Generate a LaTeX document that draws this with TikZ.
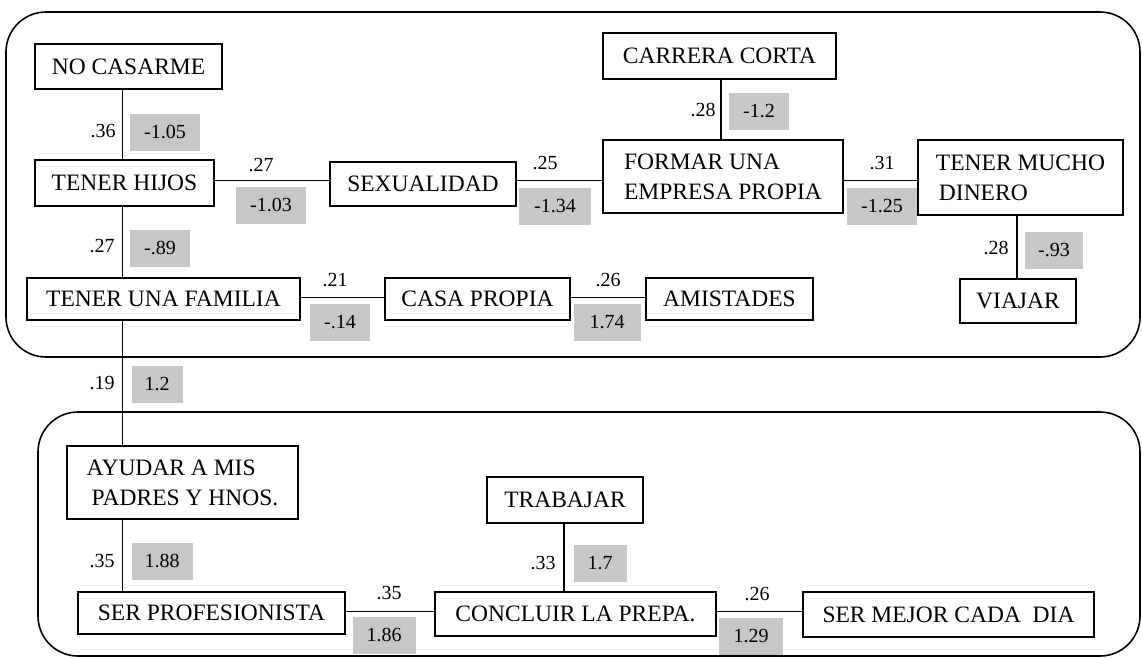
\documentclass[tikz,border=0pt]{standalone}
\usepackage{fontspec}
\setmainfont{Liberation Serif}
\begin{document}
\begin{tikzpicture}[x=1pt,y=-1pt,
  every node/.style={inner sep=0pt},
  box/.style={draw, line width=1.5pt, font=\fontsize{23.5}{30}\selectfont},
  wlab/.style={font=\fontsize{20}{22}\selectfont},
  slab/.style={fill=black!22, minimum height=37pt, font=\fontsize{20}{22}\selectfont},
  conn/.style={line width=1.5pt},
  frame/.style={line width=1.6pt, rounded corners=40pt}]
\useasboundingbox (0,0) rectangle (1142,657);
% frames
\draw[frame] (6,12) rectangle (1140,357);
\draw[frame] (38,412) rectangle (1140,656);
% columns / rows
\coordinate (colA) at (122.5,0);
\coordinate (colB) at (721,0);
\coordinate (colC) at (1017,0);
\coordinate (colD) at (564,0);
\coordinate (rowA) at (0,180.5);
\coordinate (rowB) at (0,297.5);
\coordinate (rowC) at (0,611.5);
% nodes
\node[box, minimum width=187pt, minimum height=45pt] (nocas) at (128.5,66.5) {NO CASARME};
\node[box, minimum width=179pt, minimum height=46pt] (hijos) at (124.5,183) {TENER HIJOS};
\node[box, minimum width=273pt, minimum height=42pt] (fam) at (163.5,299) {TENER UNA FAMILIA};
\node[box, minimum width=186pt, minimum height=44pt] (sex) at (423,184) {SEXUALIDAD};
\node[box, minimum width=240pt, minimum height=73pt, align=left] (formar) at (723,176.5) {FORMAR UNA\\EMPRESA PROPIA};
\node[box, minimum width=233pt, minimum height=46pt] (carrera) at (719.5,56) {CARRERA CORTA};
\node[box, minimum width=205pt, minimum height=75pt, align=left] (dinero) at (1020.5,177.5) {TENER MUCHO\\\hspace{3pt}DINERO\hspace{2.6em}};
\node[box, minimum width=116pt, minimum height=44pt] (viajar) at (1018,301) {VIAJAR};
\node[box, minimum width=185pt, minimum height=42pt] (casa) at (477.5,299) {CASA PROPIA};
\node[box, minimum width=167pt, minimum height=42pt] (amist) at (729.5,299) {AMISTADES};
\node[box, minimum width=231pt, minimum height=73pt, align=left] (ayudar) at (182.5,482.5) {AYUDAR A MIS\\\hspace{5pt}PADRES Y HNOS.};
\node[box, minimum width=267pt, minimum height=42pt] (prof) at (211.5,613) {SER PROFESIONISTA};
\node[box, minimum width=281pt, minimum height=44pt] (concl) at (575.5,614) {CONCLUIR LA PREPA.};
\node[box, minimum width=156pt, minimum height=46pt] (trab) at (565,500) {TRABAJAR};
\node[box, minimum width=291pt, minimum height=45pt] (mejor) at (948.5,614.5) {SER MEJOR CADA\ \ DIA};
% connectors
\draw[conn] (nocas.south -| colA) -- (hijos.north -| colA);
\draw[conn] (hijos.south -| colA) -- (fam.north -| colA);
\draw[conn] (fam.south -| colA) -- (ayudar.north -| colA);
\draw[conn] (ayudar.south -| colA) -- (prof.north -| colA);
\draw[conn] (hijos.east |- rowA) -- (sex.west |- rowA);
\draw[conn] (sex.east |- rowA) -- (formar.west |- rowA);
\draw[conn] (formar.east |- rowA) -- (dinero.west |- rowA);
\draw[conn] (carrera.south -| colB) -- (formar.north -| colB);
\draw[conn] (dinero.south -| colC) -- (viajar.north -| colC);
\draw[conn] (fam.east |- rowB) -- (casa.west |- rowB);
\draw[conn] (casa.east |- rowB) -- (amist.west |- rowB);
\draw[conn] (prof.east |- rowC) -- (concl.west |- rowC);
\draw[conn] (concl.east |- rowC) -- (mejor.west |- rowC);
\draw[conn] (trab.south -| colD) -- (concl.north -| colD);
% labels
\node[wlab] (l1) at (103,131) {.36};
\node[slab, minimum width=70pt] (s1) at (165,132) {-1.05};
\node[wlab] (l2) at (261,165) {.27};
\node[slab, minimum width=70pt] (s2) at (271,205) {-1.03};
\node[wlab] (l3) at (102,246) {.27};
\node[slab, minimum width=60pt] (s3) at (160,248) {-.89};
\node[wlab] (l4) at (335,280) {.21};
\node[slab, minimum width=60pt] (s4) at (340,322) {-.14};
\node[wlab] (l5) at (545,163) {.25};
\node[slab, minimum width=72pt] (s5) at (555,206) {-1.34};
\node[wlab] (l6) at (703,110) {.28};
\node[slab, minimum width=60pt] (s6) at (759,111) {-1.2};
\node[wlab] (l7) at (882,163) {.31};
\node[slab, minimum width=70pt] (s7) at (882,206) {-1.25};
\node[wlab] (l8) at (996,248) {.28};
\node[slab, minimum width=58pt] (s8) at (1054,250) {-.93};
\node[wlab] (l9) at (608,280) {.26};
\node[slab, minimum width=67pt] (s9) at (607,322) {1.74};
\node[wlab] (l10) at (102,383) {.19};
\node[slab, minimum width=51pt] (s10) at (157,384) {1.2};
\node[wlab] (l11) at (102,561) {.35};
\node[slab, minimum width=61pt] (s11) at (162,561) {1.88};
\node[wlab] (l12) at (389,593) {.35};
\node[slab, minimum width=63pt] (s12) at (384,635) {1.86};
\node[wlab] (l13) at (543,563) {.33};
\node[slab, minimum width=53pt] (s13) at (600,563) {1.7};
\node[wlab] (l14) at (757,594) {.26};
\node[slab, minimum width=64pt] (s14) at (751,636) {1.29};
\end{tikzpicture}
\end{document}
